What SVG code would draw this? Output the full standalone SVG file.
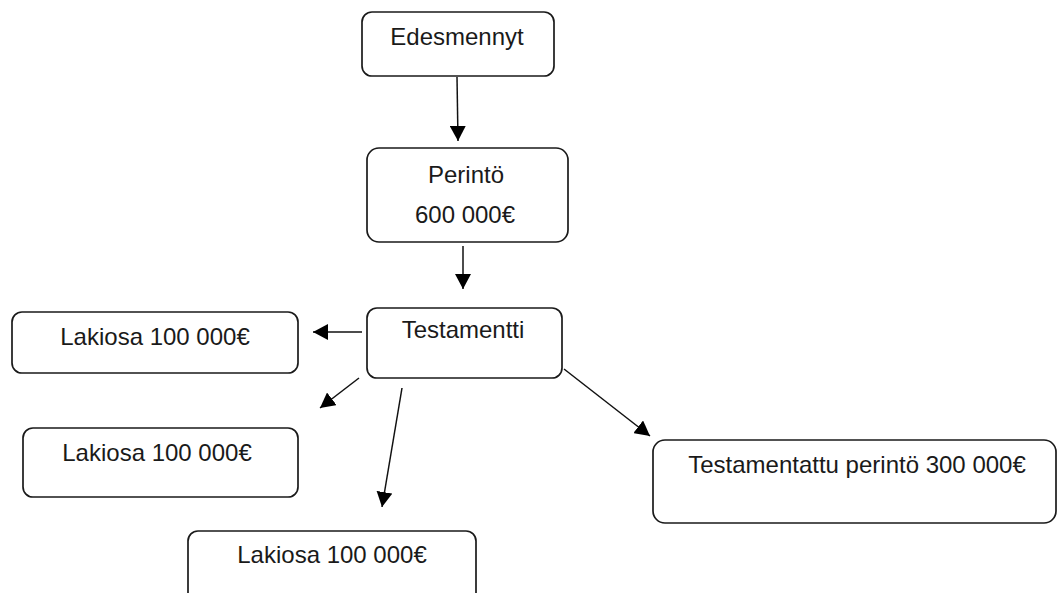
<svg xmlns="http://www.w3.org/2000/svg" width="1058" height="593" viewBox="0 0 1058 593">
<style>
.box{fill:#fff;stroke:#1a1a1a;stroke-width:1.7}
.t{font-family:"Liberation Sans",Arial,sans-serif;font-size:24px;fill:#1a1a1a;text-anchor:middle}
.c{stroke:#111;stroke-width:1.5;fill:none;marker-end:url(#ah)}
</style>
<defs>
<marker id="ah" markerUnits="userSpaceOnUse" markerWidth="16" markerHeight="16" refX="15" refY="8" orient="auto">
<path d="M0,0 L15,8 L0,16 z" fill="#000"/>
</marker>
</defs>
<rect width="1058" height="593" fill="#fff"/>
<g id="connectors">
<line class="c" x1="457" y1="77" x2="458" y2="141"/>
<line class="c" x1="463" y1="246" x2="463" y2="289"/>
<line class="c" x1="362" y1="332" x2="313" y2="332"/>
<line class="c" x1="359" y1="378" x2="320" y2="408"/>
<line class="c" x1="402" y1="388" x2="382" y2="507"/>
<line class="c" x1="564" y1="369" x2="650" y2="436"/>
</g>
<g id="edesmennyt">
<rect class="box" x="362" y="12" width="192" height="64" rx="10"/>
<text class="t" x="457" y="45">Edesmennyt</text>
</g>
<g id="perinto">
<rect class="box" x="367" y="148" width="201" height="94" rx="12"/>
<text class="t" x="466" y="183">Perintö</text>
<text class="t" x="465" y="223">600 000€</text>
</g>
<g id="testamentti">
<rect class="box" x="367" y="308" width="195" height="70" rx="10"/>
<text class="t" x="463" y="338">Testamentti</text>
</g>
<g id="lakiosa1">
<rect class="box" x="12" y="312" width="286" height="61" rx="10"/>
<text class="t" x="155" y="345">Lakiosa 100 000€</text>
</g>
<g id="lakiosa2">
<rect class="box" x="23" y="428" width="275" height="69" rx="10"/>
<text class="t" x="157" y="461">Lakiosa 100 000€</text>
</g>
<g id="lakiosa3">
<rect class="box" x="188" y="531" width="288" height="75" rx="10"/>
<text class="t" x="332" y="563">Lakiosa 100 000€</text>
</g>
<g id="testamentattu">
<rect class="box" x="653" y="440" width="403" height="83" rx="12"/>
<text class="t" x="857" y="473">Testamentattu perintö 300 000€</text>
</g>
</svg>
